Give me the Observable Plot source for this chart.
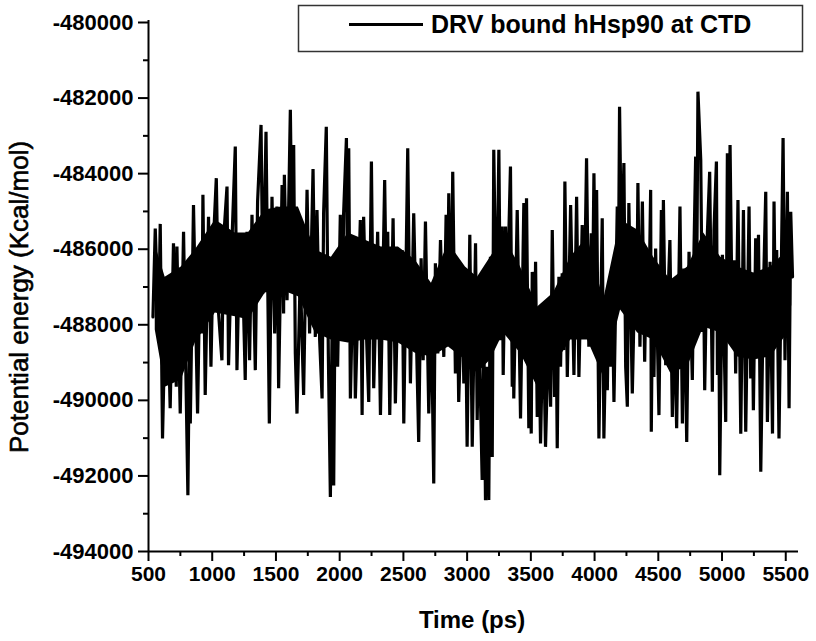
<!DOCTYPE html>
<html>
<head>
<meta charset="utf-8">
<script src="https://cdn.jsdelivr.net/npm/d3@7"></script>
<script src="https://cdn.jsdelivr.net/npm/@observablehq/plot@0.6"></script>
<style>
  html, body { margin: 0; padding: 0; background: #fff; }
  #chart { width: 816px; height: 641px; }
</style>
</head>
<body>
<div id="chart"></div>
<script>
// Time (ps) and potential energy (Kcal/mol) in four stretches
const timeA = [535,553,579,592,610,631,645,670,696,718,723,749,775,809,822,828,853,885,906,919,
  927,945,971,990,1010,1032,1050,1076,1089,1116,1128,1155,1181,1194,1215,1220,1233,1259,1273,1293,
  1312,1338,1356,1383,1398,1422,1448,1469,1490,1508,1521,1548,1560,1566,1587,1613,1629,1639,1652,1665,
  1691,1717,1744];
const energyA = [-487790,-485450,-488230,-485330,-491010,-487700,-486730,-490210,-485840,-489640,
  -485930,-490350,-485540,-492510,-488140,-490610,-484830,-490350,-486020,-488230,
  -484560,-489860,-485140,-489110,-485760,-484120,-487700,-488940,-485760,-484340,
  -489070,-485760,-483280,-489200,-485840,-487520,-485800,-489460,-485540,-488940,
  -485090,-489200,-484740,-482710,-487170,-482890,-490610,-484610,-488230,-484870,
  -489680,-484300,-487700,-484030,-487350,-482310,-486820,-483240,-488760,-490350,
  -486640,-489860,-484430];

const timeB = [1764,1791,1809,1822,1843,1862,1874,1895,1911,1927,1940,1953,1966,1984,2005,2019,2031,2053,2063,2071,
  2084,2110,2123,2162,2176,2188,2210,2228,2249,2267,2298,2320,2353,2367,2377,2393,2419,2437,2463,2477,
  2490,2503,2534,2555,2581,2620,2639,2655,2673,2699,2718,2738,2751,2770,2791,2817,2835,2846,2856,2875,
  2887,2908,2922,2934,2961,2974,2987,3000];
const energyB = [-488230,-483880,-488320,-484960,-488410,-489950,-485050,-482760,-488760,-492560,
  -488230,-492250,-486240,-489110,-485090,-488410,-485050,-483060,-488230,-483330,
  -489950,-485890,-489950,-485230,-490390,-485140,-488230,-490040,-483680,-489680,
  -485540,-490390,-484170,-487700,-485540,-490390,-485180,-490080,-486020,-488230,
  -486020,-490610,-483330,-489550,-485050,-491100,-486240,-488940,-485270,-490350,
  -487350,-492200,-486370,-488760,-485760,-488850,-485090,-487700,-484520,-488230,
  -483950,-489290,-486990,-490040,-486770,-489550,-487260,-491230];

const timeC = [3021,3040,3066,3079,3091,3118,3131,3144,3157,3170,3183,3197,3209,3230,3249,3262,3275,3283,3301,3315,
  3340,3354,3362,3366,3393,3419,3445,3456,3466,3484,3492,3503,3511,3529,3537,3550,3563,3576,3597,3615,
  3641,3655,3668,3686,3699,3707,3720,3733,3746,3757,3767,3786,3812,3838,3859,3877,3903,3916,3937,3955,
  3974,3984,3995,4008,4016,4034,4060,4073,4094,4100,4112,4126,4139,4152,4178,4186,4196,4212,4230,4244,
  4257];
const energyC = [-485620,-491230,-485840,-490520,-487700,-492110,-488230,-492640,-489110,-492640,
  -486200,-491500,-483370,-488230,-483370,-488410,-485400,-489330,-485400,-487350,
  -483810,-489640,-487350,-489950,-484960,-490480,-484780,-488230,-484650,-490740,
  -488230,-490880,-486600,-489110,-486330,-490440,-488230,-491140,-487700,-491230,
  -487880,-490170,-485490,-489910,-488230,-491270,-486730,-489110,-486640,-488670,
  -484210,-489380,-484830,-489330,-484610,-489380,-485360,-488230,-483590,-488580,
  -485580,-487350,-483990,-487790,-484430,-491010,-485180,-491010,-487350,-489730,
  -487040,-489110,-487170,-490040,-484870,-487350,-482230,-486460,-483720,-489110,
  -490170];

const timeD = [4269,4296,4322,4330,4340,4356,4375,4393,4408,4424,4440,4445,4456,4466,4479,4505,4524,4532,4540,4558,
  4591,4610,4623,4644,4670,4689,4701,4723,4741,4767,4780,4793,4801,4811,4833,4846,4854,4864,4885,4903,
  4924,4937,4956,4964,4974,4982,5003,5029,5042,5052,5063,5081,5094,5107,5125,5147,5168,5186,5212,5225,
  5235,5246,5264,5278,5286,5304,5325,5343,5356,5377,5396,5408,5419,5429,5447,5479,5494,5513,5526,5539,
  5553];
const energyD = [-484780,-489820,-485670,-488050,-484250,-488580,-484740,-488980,-486020,-488050,
  -484430,-490830,-486730,-489380,-485980,-490390,-484960,-488050,-484700,-489070,
  -485760,-490440,-487570,-490740,-484870,-490610,-486510,-491100,-486070,-489460,
  -486020,-483550,-487170,-481830,-483640,-488190,-486290,-489730,-485580,-483950,
  -489770,-485490,-483680,-489330,-486730,-491980,-486150,-490570,-483460,-487170,
  -483240,-488410,-486290,-489290,-484700,-490880,-484960,-490830,-484870,-489420,
  -486730,-490260,-485710,-488050,-485620,-491890,-487080,-484480,-490570,-486330,
  -490880,-484740,-488050,-486020,-491010,-483060,-488940,-484480,-490210,-485010,
  -486730];

// Solid core of the trace, where the dense samples overlap (upper and lower edge)
const bandTime = [553,631,757,867,1024,1181,1283,1416,1542,1676,1809,1935,2068,2202,2327,2461,2594,2720,2854,2987,
  3081,3183,3286,3419,3553,3678,3812,3945,4071,4204,4338,4463,4597,4730,4856,4990,5123,5249,5382,5516,5547];
const bandTop = [-485890,-486740,-486470,-486020,-485230,-485570,-485570,-484960,-484880,-484880,
  -486020,-486210,-485570,-485760,-485940,-485940,-486290,-486900,-485840,-486470,
  -486740,-486210,-485680,-486470,-487530,-487160,-486210,-485680,-487350,-485230,
  -485490,-486210,-486820,-486470,-485570,-486210,-486470,-486630,-486470,-486020,-486160];
const bandBottom = [-488140,-489650,-489460,-488480,-487690,-487790,-487870,-487160,-487080,-487260,
  -488220,-488400,-488480,-488400,-488400,-488480,-488750,-488850,-488590,-488930,
  -489280,-488930,-488220,-488750,-489650,-489120,-488400,-488400,-489380,-487610,
  -488220,-488400,-489280,-489120,-488060,-488220,-488850,-488930,-488850,-488220,-487480];

const xTicks = [500,1000,1500,2000,2500,3000,3500,4000,4500,5000,5500];
const xMinorTicks = [750,1250,1750,2250,2750,3250,3750,4250,4750,5250];
const yTicks = [-494000,-492000,-490000,-488000,-486000,-484000,-482000,-480000];
const yMinorTicks = [-493000,-491000,-489000,-487000,-485000,-483000,-481000];

const seriesName = "DRV bound hHsp90 at CTD";
const xLabel = "Time (ps)";
const yLabel = "Potential energy (Kcal/mol)";

const time = [...timeA, ...timeB, ...timeC, ...timeD];
const energy = [...energyA, ...energyB, ...energyC, ...energyD];
const data = time.map((t, i) => ({t, e: energy[i]}));
const band = bandTime.map((t, i) => ({t, top: bandTop[i], bottom: bandBottom[i]}));

const font = "'Liberation Sans', Arial, sans-serif";

const chart = Plot.plot({
  width: 816,
  height: 641,
  marginLeft: 148,
  marginRight: 18,
  marginTop: 22,
  marginBottom: 90,
  style: {fontFamily: font, background: "white", color: "black", overflow: "visible"},
  x: {domain: [500, 5600]},
  y: {domain: [-494000, -480000]},
  marks: [
    Plot.areaY(band, {x: "t", y1: "bottom", y2: "top", fill: "black"}),
    Plot.line(data, {x: "t", y: "e", stroke: "black", strokeWidth: 3.2, strokeLinejoin: "miter", strokeMiterlimit: 1.5}),
    Plot.axisX({ticks: xMinorTicks, tickSize: 5, strokeWidth: 2, tickFormat: () => "", label: null}),
    Plot.axisX({ticks: xTicks, tickSize: 10, tickPadding: 5, strokeWidth: 2, tickFormat: d => String(d),
      fontSize: 21, fontWeight: "bold", label: null}),
    Plot.axisY({ticks: yMinorTicks, tickSize: 5, strokeWidth: 2, tickFormat: () => "", label: null}),
    Plot.axisY({ticks: yTicks, tickSize: 10, tickPadding: 5, strokeWidth: 2, tickFormat: d => String(d),
      fontSize: 22, fontWeight: "bold", label: null}),
    Plot.ruleY([-494000], {stroke: "black", strokeWidth: 2}),
    Plot.ruleX([500], {stroke: "black", strokeWidth: 2, y1: -494000, y2: -479950})
  ]
});

document.getElementById("chart").appendChild(chart);

// Axis titles and legend, added to the same SVG
const svg = d3.select(chart);
svg.append("text")
  .attr("x", 472).attr("y", 628)
  .attr("text-anchor", "middle")
  .attr("font-family", font).attr("font-weight", "bold").attr("font-size", 24)
  .attr("fill", "black")
  .text(xLabel);
svg.append("text")
  .attr("transform", "translate(28,297) rotate(-90)")
  .attr("text-anchor", "middle")
  .attr("font-family", font).attr("font-size", 26)
  .attr("fill", "black").attr("stroke", "black").attr("stroke-width", 0.6)
  .text(yLabel);

const lg = svg.append("g").attr("text-anchor", "start");
lg.append("rect")
  .attr("x", 298.5).attr("y", 5.5).attr("width", 504).attr("height", 46)
  .attr("fill", "white").attr("stroke", "#333").attr("stroke-width", 1.5);
lg.append("line")
  .attr("x1", 349).attr("x2", 423).attr("y1", 24.5).attr("y2", 24.5)
  .attr("stroke", "black").attr("stroke-width", 3);
lg.append("text")
  .attr("x", 431).attr("y", 33)
  .attr("text-anchor", "start")
  .attr("font-family", font).attr("font-weight", "bold").attr("font-size", 25)
  .attr("fill", "black")
  .text(seriesName);
</script>
</body>
</html>
